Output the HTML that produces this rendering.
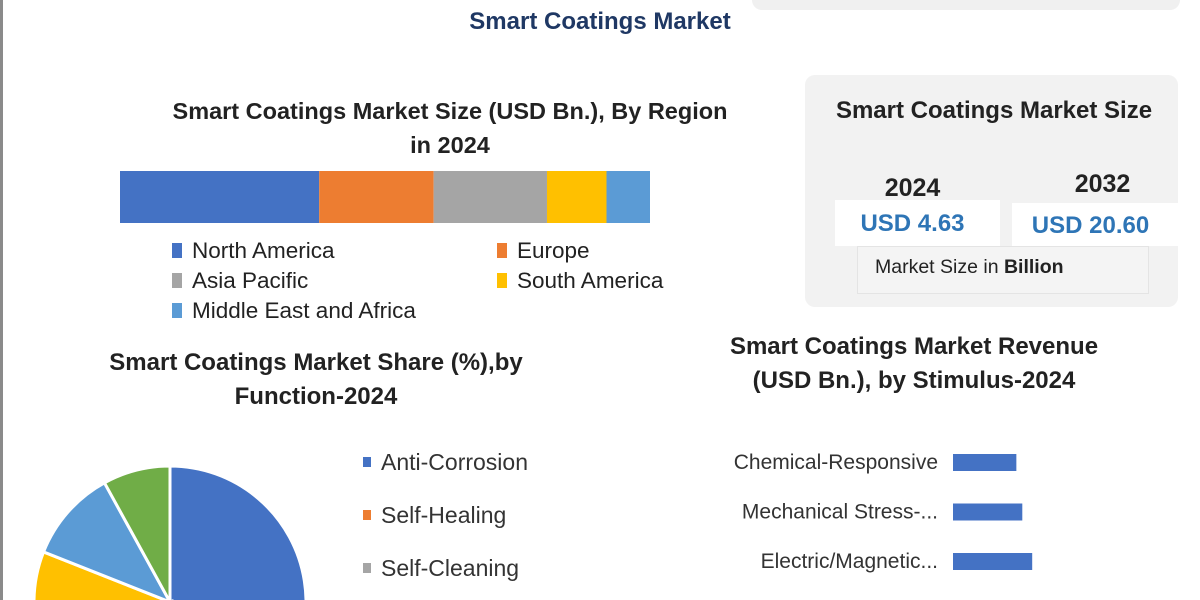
<!DOCTYPE html>
<html><head><meta charset="utf-8"><style>
html,body{margin:0;width:1200px;height:600px;overflow:hidden}
body{background:#fff;font-family:"Liberation Sans",sans-serif;position:relative}
.a{position:absolute}
.t{font-weight:bold;color:#222;text-align:center;position:absolute;white-space:nowrap}
</style></head><body>
<div class="a" style="left:0;top:0;width:3px;height:600px;background:#8a8a8a"></div>
<div class="a" style="left:752px;top:-20px;width:428px;height:30px;background:#f0f0f0;border-radius:10px"></div>
<div class="t" style="left:400px;top:8px;width:400px;font-size:24px;color:#1f3864">Smart Coatings Market</div>

<div class="t" style="left:110px;top:94px;width:680px;font-size:23.5px;line-height:34px">Smart Coatings Market Size (USD Bn.), By Region<br>in 2024</div>
<svg class="a" style="left:0;top:0" width="760" height="330" id="reg"></svg>

<div class="a" style="left:805px;top:75px;width:373px;height:232px;background:#f2f2f2;border-radius:10px"></div>
<div class="t" style="left:800px;top:97px;width:388px;font-size:24px">Smart Coatings Market Size</div>
<div class="t" style="left:835px;top:174px;width:155px;font-size:25px">2024</div>
<div class="t" style="left:1025px;top:170px;width:155px;font-size:25px">2032</div>
<div class="a" style="left:835px;top:200px;width:165px;height:46px;background:#fff"></div>
<div class="a" style="left:1012px;top:203px;width:166px;height:43px;background:#fff"></div>
<div class="t" style="left:835px;top:210px;width:155px;font-size:24px;color:#2e75b6">USD 4.63</div>
<div class="t" style="left:1003px;top:212px;width:175px;font-size:24px;color:#2e75b6">USD 20.60</div>
<div class="a" style="left:857px;top:246px;width:290px;height:46px;border:1px solid #e4e4e4;background:#f4f4f4"></div>
<div class="a" style="left:875px;top:256px;font-size:19.5px;color:#222;white-space:nowrap">Market Size in <b>Billion</b></div>

<div class="t" style="left:36px;top:346px;width:560px;font-size:24px;line-height:34px">Smart Coatings Market Share (%),by<br>Function-2024</div>
<div class="t" style="left:679px;top:330px;width:470px;font-size:24px;line-height:34px">Smart Coatings Market Revenue<br>(USD Bn.), by Stimulus-2024</div>
<svg class="a" style="left:0;top:330px" width="1200" height="270" id="low"></svg>

<script>
const regions=["North America","Europe","Asia Pacific","South America","Middle East and Africa"];
const regionValues=[1.74,1.00,0.99,0.52,0.38];
const regionColors=["#4472c4","#ed7d31","#a5a5a5","#ffc000","#5b9bd5"];
const functions=["Anti-Corrosion","Self-Healing","Self-Cleaning","Other-1","Other-2","Other-3"];
const functionShares=[45,14,10,12,11,8];
const functionColors=["#4472c4","#ed7d31","#a5a5a5","#ffc000","#5b9bd5","#70ad47"];
const stimuli=["Chemical-Responsive","Mechanical Stress-...","Electric/Magnetic..."];
const stimulusValues=[0.64,0.70,0.80];
const NS="http://www.w3.org/2000/svg";
function mk(p,t,a){const e=document.createElementNS(NS,t);for(const k in a)e.setAttribute(k,a[k]);p.appendChild(e);return e;}
const reg=document.getElementById('reg');
const tot=regionValues.reduce((a,b)=>a+b,0);
const bx=v=>120+v/tot*530;
let acc=0;
regionValues.forEach((v,i)=>{
 const r=mk(reg,'rect',{x:bx(acc),y:171,width:bx(acc+v)-bx(acc),height:52,fill:regionColors[i]});
 
 
 acc+=v;
});
regions.forEach((n,i)=>{
 const x=i%2?497:172,y=243+Math.floor(i/2)*30;
 const s=mk(reg,'rect',{x:x,y:y,width:10,height:15,fill:regionColors[i]});
 
 
 const t=mk(reg,'text',{x:x+20,y:y+15,'font-size':22.5,fill:'#222','font-family':'Liberation Sans'});
 t.textContent=n;
 
 
});
const low=document.getElementById('low');
const cx=170,cy=272,R=136;
const fs=functionShares.reduce((a,b)=>a+b,0);
let a0=0;
functionShares.forEach((v,i)=>{
 const a1=a0+v/fs*2*Math.PI;
 const p=(a)=>[cx+R*Math.sin(a),cy-R*Math.cos(a)];
 const [x0,y0]=p(a0),[x1,y1]=p(a1);
 const s=mk(low,'path',{d:`M${cx},${cy}L${x0},${y0}A${R},${R} 0 ${a1-a0>Math.PI?1:0} 1 ${x1},${y1}Z`,fill:functionColors[i],stroke:'#fff','stroke-width':3});
 
 
 a0=a1;
});
functions.slice(0,3).forEach((n,i)=>{
 const y=140+i*53;
 const s=mk(low,'rect',{x:363,y:y-13,width:8,height:10,fill:functionColors[i]});
 
 
 const t=mk(low,'text',{x:381,y:y,'font-size':23,fill:'#333','font-family':'Liberation Sans'});
 t.textContent=n;
 
 
});
const sx=v=>953+v*99;
stimuli.forEach((n,i)=>{
 const y=124+i*49.5;
 const b=mk(low,'rect',{x:953,y:y,width:sx(stimulusValues[i])-953,height:17,fill:'#4472c4'});
 
 
 const t=mk(low,'text',{x:938,y:y+15,'font-size':21,fill:'#333','text-anchor':'end','font-family':'Liberation Sans'});
 t.textContent=n;
 
 
});
</script>
</body></html>
